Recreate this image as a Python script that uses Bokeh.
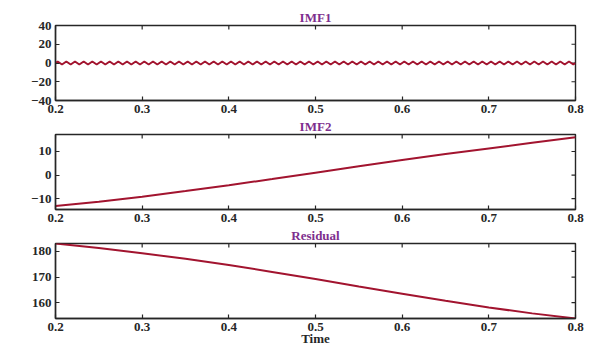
import numpy as np
from bokeh.plotting import figure
from bokeh.layouts import column
from bokeh.models import FixedTicker, Range1d
from bokeh.embed import file_html
from bokeh.resources import INLINE

# ---------------- data ----------------
x_ticks = [0.2, 0.3, 0.4, 0.5, 0.6, 0.7, 0.8]

# IMF1: ~100 Hz oscillation, extrema (start 0, then peaks/troughs, end 0)
imf1_vals = [0.0,
    1.6, -1.6, 1.6, -1.6, 1.6, -1.6, 1.6, -1.6, 1.6, -1.6, 1.6, -1.6,
    1.6, -1.6, 1.6, -1.6, 1.6, -1.6, 1.6, -1.6, 1.6, -1.6, 1.6, -1.6,
    1.6, -1.6, 1.6, -1.6, 1.6, -1.6, 1.6, -1.6, 1.6, -1.6, 1.6, -1.6,
    1.6, -1.6, 1.6, -1.6, 1.6, -1.6, 1.6, -1.6, 1.6, -1.6, 1.6, -1.6,
    1.6, -1.6, 1.6, -1.6, 1.6, -1.6, 1.6, -1.6, 1.6, -1.6, 1.6, -1.6,
    1.6, -1.6, 1.6, -1.6, 1.6, -1.6, 1.6, -1.6, 1.6, -1.6, 1.6, -1.6,
    1.6, -1.6, 1.6, -1.6, 1.6, -1.6, 1.6, -1.6, 1.6, -1.6, 1.6, -1.6,
    1.6, -1.6, 1.6, -1.6, 1.6, -1.6, 1.6, -1.6, 1.6, -1.6, 1.6, -1.6,
    1.6, -1.6, 1.6, -1.6, 1.6, -1.6, 1.6, -1.6, 1.6, -1.6, 1.6, -1.6,
    1.6, -1.6, 1.6, -1.6, 1.6, -1.6, 1.6, -1.6, 1.6, -1.6, 1.6, -1.6,
    0.0]
imf1_t = [0.2] + list(np.linspace(0.2025, 0.7975, 120)) + [0.8]
imf1_yticks = [-40, -20, 0, 20, 40]

curve_t = [0.2, 0.25, 0.3, 0.35, 0.4, 0.45, 0.5, 0.55, 0.6, 0.65, 0.7, 0.75, 0.8]
imf2_vals = [-13.1, -11.3, -9.2, -6.8, -4.3, -1.7, 1.0, 3.7, 6.4, 8.9, 11.3, 13.7, 16.0]
imf2_yticks = [-10, 0, 10]
resid_vals = [183.1, 181.3, 179.3, 177.1, 174.7, 172.0, 169.2, 166.3, 163.5, 160.7, 158.1, 155.8, 153.8]
resid_yticks = [160, 170, 180]

# ---------------- style ----------------
LINE = "#A2142F"
TITLE = "#7E2F8E"
AX = "#262626"
FONT = "Liberation Serif"
TICK_LEN = 4


def style_axis(ax, ticks):
    ax.ticker = FixedTicker(ticks=ticks)
    ax.minor_tick_line_color = None
    ax.major_tick_in = TICK_LEN
    ax.major_tick_out = 0
    ax.major_tick_line_color = AX
    ax.major_tick_line_width = 1.2
    ax.axis_line_color = AX
    ax.axis_line_width = 1.4
    ax.major_label_text_font = FONT
    ax.major_label_text_font_style = "bold"
    ax.major_label_text_color = AX
    ax.major_label_text_font_size = "13px"
    ax.major_label_standoff = 4


def make_panel(title, xs, ys, yr, yticks, top, bottom, xlabel=None):
    p = figure(frame_width=520, frame_height=75,
               x_range=Range1d(0.2, 0.8), y_range=Range1d(*yr),
               output_backend="svg", toolbar_location=None,
               min_border_left=55, min_border_right=18, min_border_top=top,
               min_border_bottom=bottom)
    p.grid.visible = False
    p.outline_line_color = AX
    p.outline_line_width = 1.4
    p.title.text = title
    p.title.align = "center"
    p.title.text_font = FONT
    p.title.text_font_size = "13px"
    p.title.text_font_style = "bold"
    p.title.text_color = TITLE
    p.title.standoff = 2
    p.title.offset = 0

    style_axis(p.xaxis[0], x_ticks)
    style_axis(p.yaxis[0], yticks)
    if xlabel:
        ax = p.xaxis[0]
        ax.axis_label = xlabel
        ax.axis_label_text_font = FONT
        ax.axis_label_text_font_size = "13px"
        ax.axis_label_text_font_style = "bold"
        ax.axis_label_text_color = AX
        ax.axis_label_standoff = -3

    x1 = p.x_range.end
    y1 = p.y_range.end
    # inward ticks on the top and right edges of the box
    p.ray(x=x_ticks, y=[y1] * len(x_ticks), length=TICK_LEN, length_units="screen",
          angle=-np.pi / 2, line_color=AX, line_width=1.2)
    p.ray(x=[x1] * len(yticks), y=yticks, length=TICK_LEN, length_units="screen",
          angle=np.pi, line_color=AX, line_width=1.2)

    p.line(xs, ys, line_color=LINE, line_width=2)
    return p


p1 = make_panel("IMF1", imf1_t, imf1_vals, (-40, 40), imf1_yticks, 25, 0)
p2 = make_panel("IMF2", curve_t, imf2_vals, (-14.6, 17.2), imf2_yticks, 0, 0)
p3 = make_panel("Residual", curve_t, resid_vals, (153.8, 183.1), resid_yticks, 0, 0, xlabel="Time")

layout = column(p1, p2, p3, spacing=0)
open("out.html", "w").write(file_html(layout, INLINE))
